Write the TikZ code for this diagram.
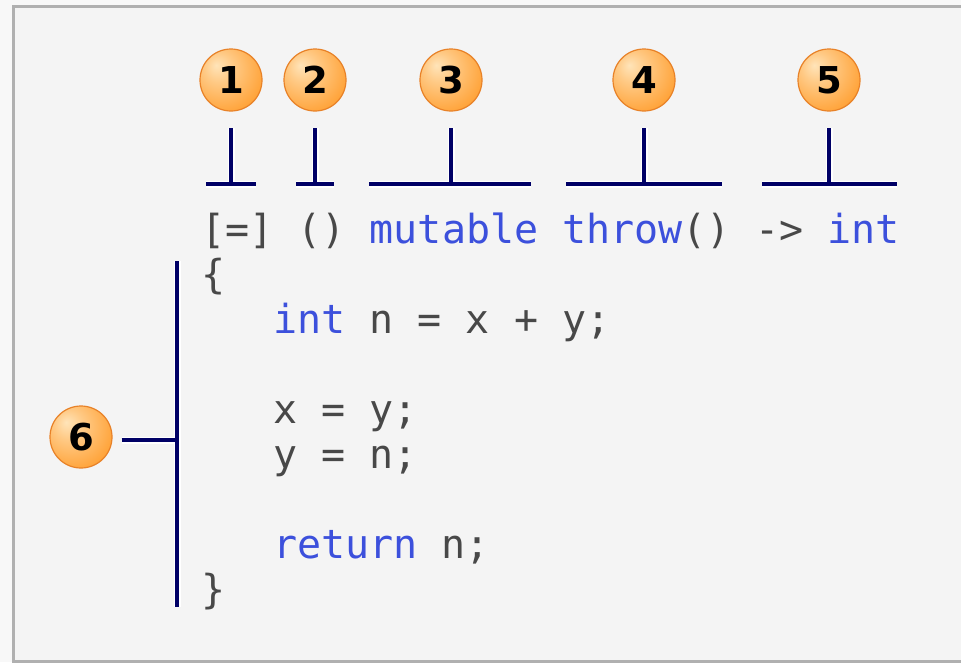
\documentclass[tikz,border=0pt]{standalone}
\usepackage{fontspec}
\setmainfont{DejaVu Sans}
\newfontfamily\codefont{DejaVu Sans Mono}[WordSpace={1,0,0}]
\usetikzlibrary{calc}
\definecolor{outside}{RGB}{248, 248, 248}
\definecolor{paper}{RGB}{244, 244, 244}
\definecolor{frame}{RGB}{176, 176, 176}
\definecolor{navy}{RGB}{0, 0, 102}
\definecolor{keyword}{RGB}{60, 80, 220}
\definecolor{codegray}{RGB}{72, 72, 72}
\definecolor{ballhi}{RGB}{255, 228, 185}
\definecolor{ballmid}{RGB}{255, 162, 55}
\definecolor{balldark}{RGB}{252, 148, 36}
\definecolor{ballrim}{RGB}{232, 130, 40}
\pgfdeclareradialshading{numball}{\pgfpoint{-12bp}{12bp}}{%
  color(0bp)=(ballhi); color(12bp)=(ballhi!60!ballmid);
  color(34bp)=(ballmid); color(54bp)=(balldark); color(72bp)=(balldark)}
\newcommand{\kw}[1]{\textcolor{keyword}{#1}}

\begin{document}
\begin{tikzpicture}[x=1pt, y=-1pt,
  ball/.style={circle, minimum size=62pt, inner sep=0pt, shade, shading=numball,
    draw=ballrim, line width=1.2pt, font=\bfseries\fontsize{37}{37}\selectfont},
  bracket/.style={draw=navy, line width=3.2pt, preaction={draw=white, line width=7pt}},
  code/.style={anchor=base west, inner sep=0pt, text=codegray,
    font=\codefont\fontsize{40}{45}\selectfont}]

  \useasboundingbox (0, 0) rectangle (961, 662);
  \fill[outside] (0, 0) rectangle (961, 662);
  \fill[paper] (13.5, 6.5) rectangle (961, 661);
  \draw[frame, line width=3pt] (961, 6.5) -- (13.5, 6.5) -- (13.5, 661) -- (961, 661);

  \foreach \i/\x in {1/231, 2/315, 3/451, 4/644, 5/829} {
    \node[ball] (n\i) at (\x, 80) {\i};
  }
  \node[ball] (n6) at (81, 437) {6};

  \foreach \m/\l/\r in {231/206/256, 315/296/334, 451/369/531, 644/566/722, 829/762/897} {
    \draw[bracket] (\m, 128) -- (\m, 184) (\l, 184) -- (\r, 184);
  }
  \coordinate (top6) at (177, 261);
  \coordinate (bot6) at (177, 607);
  \coordinate (mid6) at (177, 440);
  \draw[bracket] (top6) -- (bot6) (n6.east |- mid6) ++(9, 0) -- (mid6);

  \node[code] (l1) at (201, 243) {[=] () \kw{mutable} \kw{throw}() -> \kw{int}};
  \node[code] (l2) at (201, 288) {\{};
  \node[code] (l3) at (273, 333) {\kw{int} n = x + y;};
  \node[code] (l5) at (273, 423) {x = y;};
  \node[code] (l6) at (273, 468) {y = n;};
  \node[code] (l8) at (273, 558) {\kw{return} n;};
  \node[code] (l9) at (201, 603) {\}};

\end{tikzpicture}
\end{document}
